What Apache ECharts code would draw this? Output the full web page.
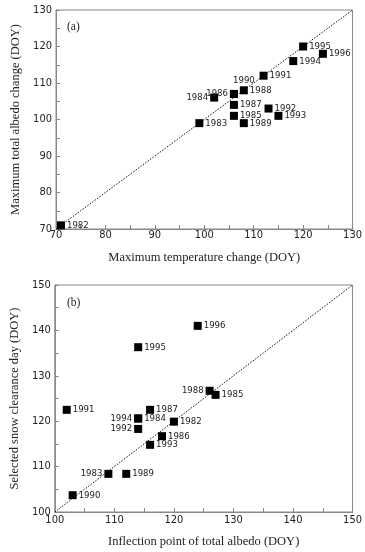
<!DOCTYPE html>
<html>
<head>
<meta charset="utf-8">
<script src="https://cdn.jsdelivr.net/npm/echarts@6/dist/echarts.min.js"></script>
<style>html,body{margin:0;padding:0;background:#fff}#c{width:365px;height:552px}</style>
</head>
<body>
<div id="c"></div>
<script>
// Panel (a)
var yearsA = ['1982','1983','1984','1985','1986','1987','1988','1989','1990','1991','1992','1993','1994','1995','1996'];
var tempA  = [71, 99, 102, 106, 106, 106, 108, 108, 106, 112, 113, 115, 118, 120, 124];
var albA   = [71, 99, 106, 101, 107, 104, 108, 99, 107, 112, 103, 101, 116, 120, 118];
var labelPosA = ['right','right','left','right','left','right','right','right','topright','right','right','right','right','right','right'];
// Panel (b)
var yearsB = ['1982','1983','1984','1985','1986','1987','1988','1989','1990','1991','1992','1993','1994','1995','1996'];
var inflB  = [120, 109, 114, 127, 118, 116, 126, 112, 103, 102, 114, 116, 114, 114, 124];
var snowB  = [119.9, 108.4, 120.6, 125.8, 116.7, 122.5, 126.7, 108.4, 103.7, 122.5, 118.3, 114.8, 120.6, 136.3, 141];
var labelPosB = ['right','left','right','right','right','right','left','right','right','right','left','right','left','right','right'];
var ticksA = [70, 80, 90, 100, 110, 120, 130];
var ticksB = [100, 110, 120, 130, 140, 150];

var SANS = '"DejaVu Sans Condensed","DejaVu Sans",sans-serif';
var SERIF = '"Liberation Serif","DejaVu Serif",serif';

function pts(xs, ys, names, pos) {
  return xs.map(function (x, i) {
    var p = pos[i];
    var lab = {show: true, formatter: names[i], position: p === 'topright' ? 'top' : p, distance: 2};
    if (p === 'topright') { lab.offset = [10, -2]; }
    return {value: [x, ys[i]], label: lab};
  });
}

function axis(gi, min, max, name, gap, margin) {
  return {
    gridIndex: gi, type: 'value', min: min, max: max, interval: 10,
    name: name, nameLocation: 'middle', nameGap: gap,
    nameTextStyle: {fontFamily: SERIF, fontSize: 12.5, color: '#222'},
    axisLine: {show: true, onZero: false, lineStyle: {color: '#888', width: 1}},
    axisTick: {show: true, inside: true, length: 4, lineStyle: {color: '#888'}},
    minorTick: {show: true, splitNumber: 2, length: 4, lineStyle: {color: '#888'}},
    axisLabel: {fontFamily: SANS, fontSize: 11, color: '#222', margin: margin},
    splitLine: {show: false}
  };
}

var xA = axis(0, 70, 130, 'Maximum temperature change (DOY)', 22, 1);
var yA = axis(0, 70, 130, 'Maximum total albedo change (DOY)', 30, 4);
var xB = axis(1, 100, 150, 'Inflection point of total albedo (DOY)', 23, 3);
var yB = axis(1, 100, 150, 'Selected snow clearance day (DOY)', 32, 4);

var chart = echarts.init(document.getElementById('c'), null, {renderer: 'canvas'});
chart.setOption({
  animation: false,
  backgroundColor: '#fff',
  title: [
    {text: '(a)', left: 62, top: 16, textStyle: {fontFamily: SERIF, fontSize: 11.5, fontWeight: 'normal', color: '#222'}},
    {text: '(b)', left: 62, top: 292, textStyle: {fontFamily: SERIF, fontSize: 11.5, fontWeight: 'normal', color: '#222'}}
  ],
  grid: [
    {left: 56, top: 10, width: 299, height: 219, show: true, borderColor: '#888', borderWidth: 1, backgroundColor: 'transparent'},
    {left: 52, top: 285, width: 303, height: 227, show: true, borderColor: '#888', borderWidth: 1, backgroundColor: 'transparent'}
  ],
  xAxis: [xA, xB],
  yAxis: [yA, yB],
  series: [
    {type: 'line', xAxisIndex: 0, yAxisIndex: 0, data: [[ticksA[0], ticksA[0]], [ticksA[ticksA.length-1], ticksA[ticksA.length-1]]],
      symbol: 'none', lineStyle: {type: [1.5, 1.5], color: '#111', width: 1}, z: 1, silent: true},
    {type: 'line', xAxisIndex: 1, yAxisIndex: 1, data: [[ticksB[0], ticksB[0]], [ticksB[ticksB.length-1], ticksB[ticksB.length-1]]],
      symbol: 'none', lineStyle: {type: [1.5, 1.5], color: '#111', width: 1}, z: 1, silent: true},
    {type: 'scatter', xAxisIndex: 0, yAxisIndex: 0, symbol: 'rect', symbolSize: 8,
      itemStyle: {color: '#000', opacity: 1}, data: pts(tempA, albA, yearsA, labelPosA),
      label: {fontFamily: SANS, fontSize: 9.5, color: '#222'}, z: 3},
    {type: 'scatter', xAxisIndex: 1, yAxisIndex: 1, symbol: 'rect', symbolSize: 8,
      itemStyle: {color: '#000', opacity: 1}, data: pts(inflB, snowB, yearsB, labelPosB),
      label: {fontFamily: SANS, fontSize: 9.5, color: '#222'}, z: 3}
  ]
});
</script>
</body>
</html>
